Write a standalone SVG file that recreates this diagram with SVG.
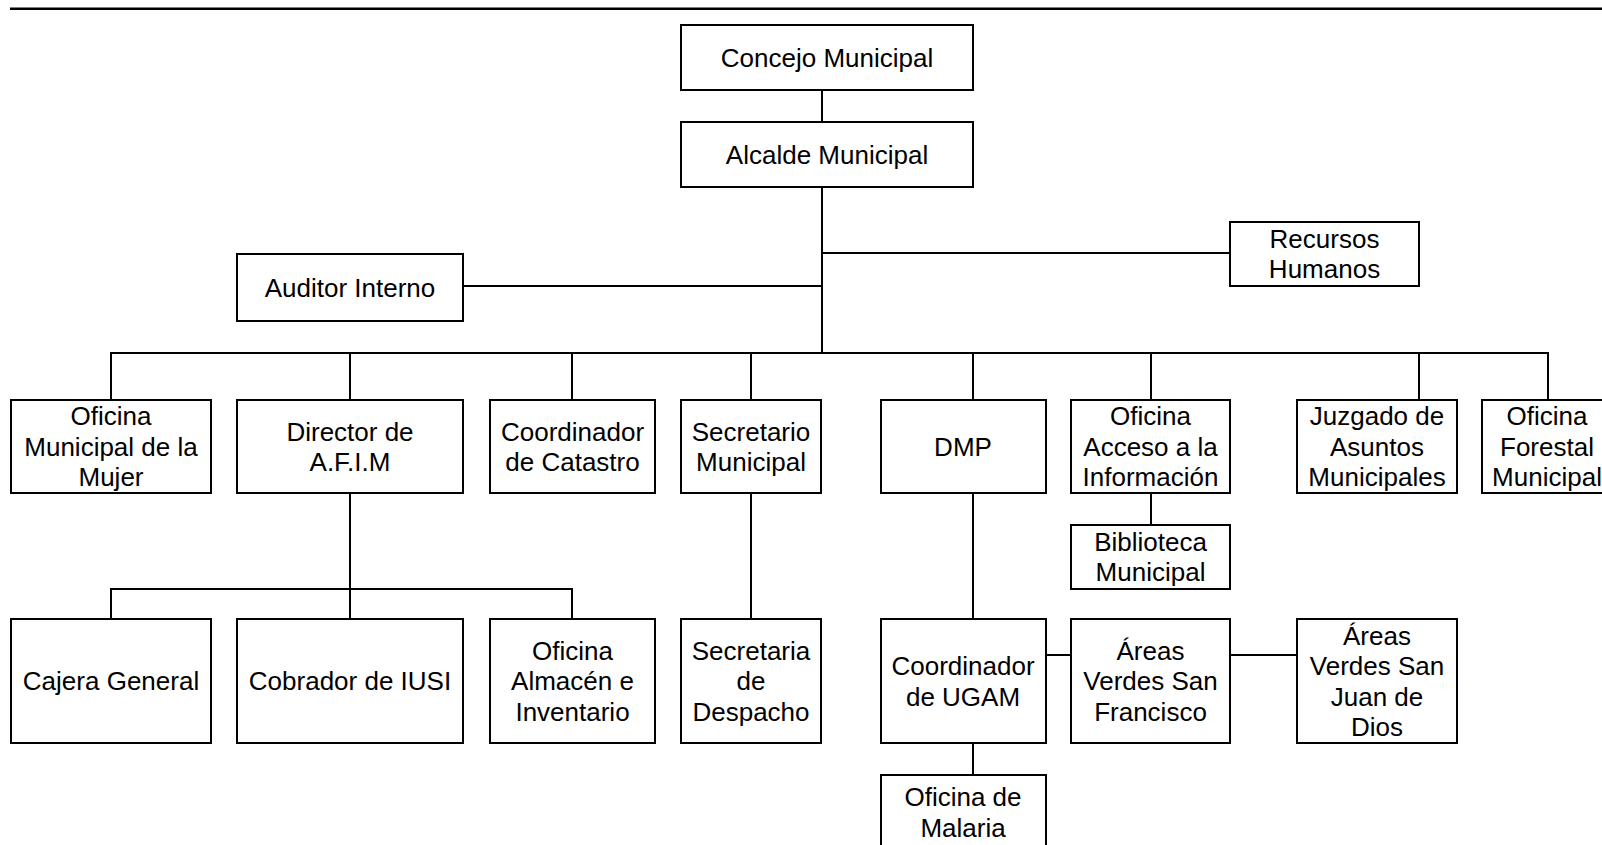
<svg xmlns="http://www.w3.org/2000/svg" width="1602" height="845" viewBox="0 0 1602 845">
<style>
.box{fill:#fff;stroke:#000;stroke-width:2}
.ln{fill:none;stroke:#000;stroke-width:2}
text{font-family:"Liberation Sans",Arial,sans-serif;font-size:26px;fill:#000;text-anchor:middle}
</style>
<rect width="1602" height="845" fill="#fff"/>
<line x1="10" y1="8.7" x2="1602" y2="8.7" stroke="#000" stroke-width="2.6"/>
<g id="connectors" class="ln">
<path d="M822 90V122"/>
<path d="M822 187V353"/>
<path d="M822 253H1230"/>
<path d="M463 286H822"/>
<path d="M111 400V353H1548V400"/>
<path d="M350 353V400M572 353V400M751 353V400M973 353V400M1151 353V400M1419 353V400"/>
<path d="M1151 493V525"/>
<path d="M350 493V589M111 619V589H572V619M350 589V619"/>
<path d="M751 493V619"/>
<path d="M973 493V619"/>
<path d="M1046 655H1071"/>
<path d="M1230 655H1297"/>
<path d="M973 743V775"/>
</g>
<g id="concejo"><rect class="box" x="681" y="25" width="292" height="65"/><text x="827" y="66.8">Concejo Municipal</text></g>
<g id="alcalde"><rect class="box" x="681" y="122" width="292" height="65"/><text x="827" y="163.8">Alcalde Municipal</text></g>
<g id="auditor"><rect class="box" x="237" y="254" width="226" height="67"/><text x="350" y="296.8">Auditor Interno</text></g>
<g id="rrhh"><rect class="box" x="1230" y="222" width="189" height="64"/><text x="1324.5" y="248.3">Recursos</text><text x="1324.5" y="278.3">Humanos</text></g>
<g id="mujer"><rect class="box" x="11" y="400" width="200" height="93"/><text x="111" y="425.3">Oficina</text><text x="111" y="455.8">Municipal de la</text><text x="111" y="486.3">Mujer</text></g>
<g id="afim"><rect class="box" x="237" y="400" width="226" height="93"/><text x="350" y="440.8">Director de</text><text x="350" y="471.3">A.F.I.M</text></g>
<g id="catastro"><rect class="box" x="490" y="400" width="165" height="93"/><text x="572.5" y="440.8">Coordinador</text><text x="572.5" y="471.3">de Catastro</text></g>
<g id="secretario"><rect class="box" x="681" y="400" width="140" height="93"/><text x="751" y="440.8">Secretario</text><text x="751" y="471.3">Municipal</text></g>
<g id="dmp"><rect class="box" x="881" y="400" width="165" height="93"/><text x="963" y="455.8">DMP</text></g>
<g id="acceso"><rect class="box" x="1071" y="400" width="159" height="93"/><text x="1150.5" y="425.3">Oficina</text><text x="1150.5" y="455.8">Acceso a la</text><text x="1150.5" y="486.3">Información</text></g>
<g id="juzgado"><rect class="box" x="1297" y="400" width="160" height="93"/><text x="1377" y="425.3">Juzgado de</text><text x="1377" y="455.8">Asuntos</text><text x="1377" y="486.3">Municipales</text></g>
<g id="forestal"><rect class="box" x="1482" y="400" width="130" height="93"/><text x="1547" y="425.3">Oficina</text><text x="1547" y="455.8">Forestal</text><text x="1547" y="486.3">Municipal</text></g>
<g id="biblioteca"><rect class="box" x="1071" y="525" width="159" height="64"/><text x="1150.5" y="551">Biblioteca</text><text x="1150.5" y="581">Municipal</text></g>
<g id="cajera"><rect class="box" x="11" y="619" width="200" height="124"/><text x="111" y="690.3">Cajera General</text></g>
<g id="cobrador"><rect class="box" x="237" y="619" width="226" height="124"/><text x="350" y="690.3">Cobrador de IUSI</text></g>
<g id="almacen"><rect class="box" x="490" y="619" width="165" height="124"/><text x="572.5" y="659.8">Oficina</text><text x="572.5" y="690.3">Almacén e</text><text x="572.5" y="720.8">Inventario</text></g>
<g id="secretaria"><rect class="box" x="681" y="619" width="140" height="124"/><text x="751" y="659.8">Secretaria</text><text x="751" y="690.3">de</text><text x="751" y="720.8">Despacho</text></g>
<g id="ugam"><rect class="box" x="881" y="619" width="165" height="124"/><text x="963" y="675">Coordinador</text><text x="963" y="705.5">de UGAM</text></g>
<g id="sanfrancisco"><rect class="box" x="1071" y="619" width="159" height="124"/><text x="1150.5" y="659.8">Áreas</text><text x="1150.5" y="690.3">Verdes San</text><text x="1150.5" y="720.8">Francisco</text></g>
<g id="sanjuan"><rect class="box" x="1297" y="619" width="160" height="124"/><text x="1377" y="644.5">Áreas</text><text x="1377" y="675">Verdes San</text><text x="1377" y="705.5">Juan de</text><text x="1377" y="736">Dios</text></g>
<g id="malaria"><rect class="box" x="881" y="775" width="165" height="74"/><text x="963" y="806.3">Oficina de</text><text x="963" y="836.8">Malaria</text></g>
</svg>
